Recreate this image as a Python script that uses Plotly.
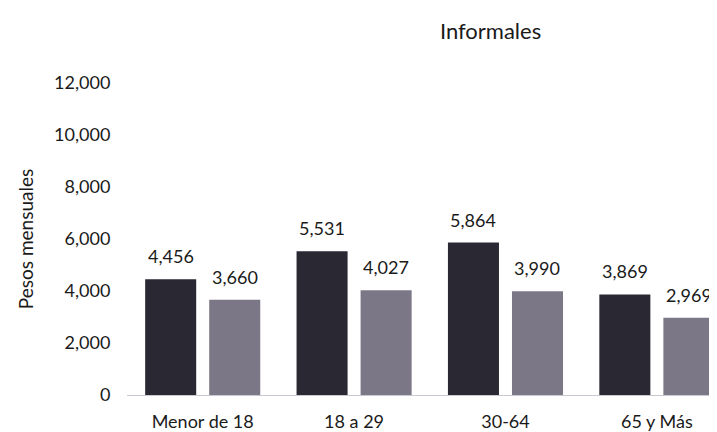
import plotly.graph_objects as go

categories = ["Menor de 18", "18 a 29", "30-64", "65 y Más"]
serie_1 = [4456, 5531, 5864, 3869]
serie_2 = [3660, 4027, 3990, 2969]
labels_1 = ["4,456", "5,531", "5,864", "3,869"]
labels_2 = ["3,660", "4,027", "3,990", "2,969"]

FONT = "Lato, Open Sans, sans-serif"

fig = go.Figure()
fig.add_trace(go.Bar(x=categories, y=serie_1, marker=dict(color="#2a2933", line=dict(width=0))))
fig.add_trace(go.Bar(x=categories, y=serie_2, marker=dict(color="#7c7787", line=dict(width=0))))

# value labels, a bit higher above the bars than plotly's default
for cat, v, t in zip(categories, serie_1, labels_1):
    fig.add_annotation(x=cat, y=v, text=t, showarrow=False, xshift=-32,
                       yanchor="bottom", yshift=10, font=dict(size=18))
for cat, v, t in zip(categories, serie_2, labels_2):
    fig.add_annotation(x=cat, y=v, text=t, showarrow=False, xshift=32,
                       yanchor="bottom", yshift=10, font=dict(size=18))

fig.update_layout(
    width=717, height=432,
    margin=dict(l=119, r=0, t=75, b=45),
    paper_bgcolor="white", plot_bgcolor="white",
    font=dict(family=FONT, size=18, color="#1a1a1a"),
    barmode="group", bargap=0.154, bargroupgap=0.203,
    showlegend=False,
    title=dict(text="Informales", x=0.673, xanchor="center", y=0.945,
               yanchor="middle", font=dict(size=22, color="#1a1a1a")),
)
fig.update_xaxes(
    range=[-0.5, 3.45], showgrid=False, showline=True, linecolor="#c8c8d0",
    linewidth=1, ticks="outside", ticklen=10, tickcolor="white",
    tickfont=dict(size=18), automargin=False,
)
fig.update_yaxes(
    range=[0, 12000], tickvals=[0, 2000, 4000, 6000, 8000, 10000, 12000],
    tickformat=",d", showgrid=False, zeroline=False, showline=False,
    ticks="outside", ticklen=12, tickcolor="white", automargin=False,
    title=dict(text="Pesos mensuales", font=dict(size=19)),
)

fig.write_html("out.html")
